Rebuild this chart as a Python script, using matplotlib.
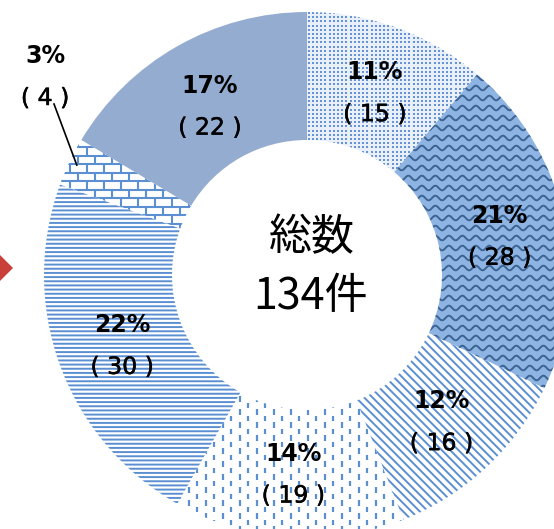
import numpy as np
import matplotlib.pyplot as plt
import matplotlib.patheffects as pe
from matplotlib.patches import Polygon
from matplotlib.collections import LineCollection

plt.rcParams['font.family'] = ['Noto Sans CJK JP', 'DejaVu Sans']
plt.rcParams['hatch.linewidth'] = 1.4

# data (clockwise from 12 o'clock)
counts = [15, 28, 16, 19, 30, 4, 22]
percents = ['11%', '21%', '12%', '14%', '22%', '3%', '17%']
total_lines = ['総数', '134件']

W, H = 554, 529
cx, cy = 307, H - 275
R = 263
ring_w = 128

fig = plt.figure(figsize=(W / 100, H / 100), dpi=100)
ax = fig.add_axes([0, 0, 1, 1])

wedges, _ = ax.pie(counts, startangle=90, counterclock=False, center=(cx, cy),
                   radius=R, wedgeprops=dict(width=ring_w, linewidth=0))

blue = '#5b8fd2'
faces = ['#eaf0f9', '#8db4e2', '#ffffff', '#ffffff', '#ffffff', '#ffffff', '#95acd1']
hatches = [None, None, '\\\\\\\\', None, '----', None, None]
for w, fc, h in zip(wedges, faces, hatches):
    w.set_facecolor(fc)
    w.set_edgecolor(blue)
    w.set_linewidth(0)
    if h:
        w.set_hatch(h)

# fine dot pattern on the 15 segment
gx, gy = np.meshgrid(np.arange(cx - R, cx + R, 4.2), np.arange(cy - R, cy + R, 4.2))
dots = ax.scatter(gx.ravel(), gy.ravel(), s=3.0, marker='s', color='#6593d4',
                  linewidths=0)
dots.set_clip_path(wedges[0])

# wavy pattern on the 28 segment
xs = np.arange(cx - R, cx + R, 0.5)
segs = []
for yl in np.arange(cy - R, cy + R, 10):
    ys = yl + 2.3 * np.sin(2 * np.pi * xs / 13.5)
    segs.append(np.column_stack([xs, ys]))
lc = LineCollection(segs, colors='#3d6393', linewidths=1.4)
ax.add_collection(lc)
lc.set_clip_path(wedges[1])

# dashed vertical pattern on the 19 segment
segs = []
for k, xv in enumerate(np.arange(cx - R, cx + R, 8.5)):
    off = 6.5 * (k % 2)
    for yv in np.arange(cy - R + off, cy + R, 13):
        segs.append([(xv, yv), (xv, yv + 5.5)])
lc = LineCollection(segs, colors=blue, linewidths=1.6)
ax.add_collection(lc)
lc.set_clip_path(wedges[3])

# brick pattern on the 4 segment
segs = []
for k, yv in enumerate(np.arange(cy - R, cy + R, 8.5)):
    segs.append([(cx - R, yv), (cx + R, yv)])
    off = 8.5 * (k % 2)
    for xv in np.arange(cx - R + off, cx + R, 17):
        segs.append([(xv, yv), (xv, yv + 8.5)])
lc = LineCollection(segs, colors=blue, linewidths=1.5)
ax.add_collection(lc)
lc.set_clip_path(wedges[5])

# labels
lab_font = ['DejaVu Sans', 'Noto Sans CJK JP']
thicken = [pe.withStroke(linewidth=0.35, foreground='black')]
r_lab = 197
for i, w in enumerate(wedges):
    ang = np.deg2rad((w.theta1 + w.theta2) / 2)
    if i == 5:
        px, py = cx + 0.97 * R * np.cos(ang), cy + 0.97 * R * np.sin(ang)
        ax.plot([px, 54], [py, H - 104], color='black', lw=1.2)
        x, y = 45, H - 77
    else:
        x = cx + r_lab * np.cos(ang)
        y = cy + r_lab * np.sin(ang) - 3
    ax.text(x, y + 21, percents[i], ha='center', va='center',
            fontsize=17, fontweight='bold', family=lab_font)
    ax.text(x, y - 21, f'( {counts[i]} )', ha='center', va='center',
            fontsize=17, family=lab_font, path_effects=thicken)

ax.text(cx + 5, H - 238, total_lines[0], ha='center', va='center', fontsize=31)
ax.text(cx + 4, H - 297, total_lines[1], ha='center', va='center', fontsize=31)

# red marker on left edge
ax.add_patch(Polygon([(13, H - 268), (-20, H - 235), (-53, H - 268), (-20, H - 301)],
                     closed=True, facecolor='#c9403a', edgecolor='none'))

ax.set_xlim(0, W)
ax.set_ylim(0, H)
ax.set_aspect('auto')
ax.axis('off')

fig.savefig('out.png', dpi=100)
